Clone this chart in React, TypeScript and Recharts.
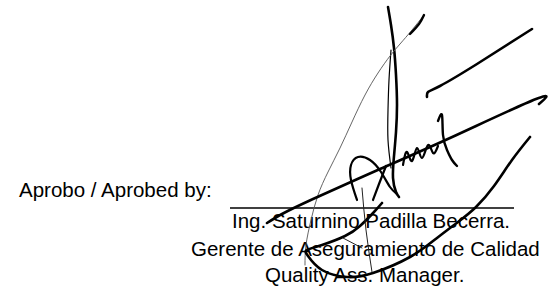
import { LineChart, Line, XAxis, YAxis, ReferenceLine, Customized } from "recharts";

// signature strokes, page coordinates (x right, y down)
const tallStroke = [
  { x: 388, y: 7 }, { x: 391, y: 25 }, { x: 394, y: 48 }, { x: 396, y: 75 },
  { x: 397, y: 105 }, { x: 396, y: 132 }, { x: 394, y: 156 }, { x: 393, y: 178 },
  { x: 396, y: 192 }, { x: 399, y: 197 },
];
const tallInner = [
  { x: 391, y: 50 }, { x: 389, y: 80 }, { x: 388, y: 110 }, { x: 388, y: 140 }, { x: 391, y: 168 },
];
const thinCurve = [
  { x: 424, y: 15 }, { x: 412, y: 30 }, { x: 400, y: 44 }, { x: 390, y: 56 },
  { x: 378, y: 73 }, { x: 365, y: 95 }, { x: 352, y: 122 }, { x: 340, y: 148 },
  { x: 328, y: 172 }, { x: 318, y: 195 }, { x: 311, y: 220 }, { x: 306, y: 245 }, { x: 305, y: 265 },
];
const topHook = [{ x: 424, y: 15 }, { x: 419, y: 24 }, { x: 410, y: 34 }];
const longDiagonal = [
  { x: 267, y: 223 }, { x: 282, y: 214 }, { x: 313, y: 199 }, { x: 380, y: 169 },
  { x: 450, y: 138 }, { x: 536, y: 99 }, { x: 539, y: 104 },
];
const upperDash = [
  { x: 427, y: 97 }, { x: 428, y: 92 }, { x: 440, y: 86 }, { x: 477, y: 64 }, { x: 532, y: 29 },
];
const scribble = [
  { x: 403, y: 165 }, { x: 407, y: 152 }, { x: 412, y: 161 }, { x: 417, y: 148 },
  { x: 422, y: 158 }, { x: 428, y: 145 }, { x: 433, y: 153 }, { x: 438, y: 146 },
];
const oneStroke = [
  { x: 438, y: 121 }, { x: 442, y: 115 }, { x: 443, y: 135 }, { x: 447, y: 150 },
  { x: 452, y: 160 }, { x: 457, y: 166 },
];
const bowl = [
  { x: 530, y: 137 }, { x: 512, y: 160 }, { x: 494, y: 186 }, { x: 476, y: 207 },
  { x: 458, y: 222 }, { x: 437, y: 238 }, { x: 410, y: 257 }, { x: 373, y: 273 },
  { x: 347, y: 277 }, { x: 322, y: 270 }, { x: 308, y: 256 }, { x: 307, y: 250 },
  { x: 322, y: 245 }, { x: 345, y: 236 }, { x: 360, y: 226 }, { x: 374, y: 212 }, { x: 382, y: 203 },
];
const loopD = [
  { x: 357, y: 200 }, { x: 351, y: 180 }, { x: 351, y: 165 }, { x: 358, y: 157 },
  { x: 370, y: 160 }, { x: 381, y: 172 }, { x: 390, y: 187 }, { x: 397, y: 194 },
];
const crossLeg = [{ x: 373, y: 200 }, { x: 379, y: 184 }, { x: 386, y: 166 }];
const thinVertical = [{ x: 362, y: 188 }, { x: 366, y: 230 }, { x: 372, y: 272 }];
const thinCross = [{ x: 343, y: 238 }, { x: 362, y: 248 }];

const signatureLine = [{ x: 230, y: 208 }, { x: 514, y: 208 }];

const labelLines = [
  { text: "Aprobo / Aprobed by:", x: 19, y: 197 },
  { text: "Ing. Saturnino Padilla Becerra.", x: 232, y: 228 },
  { text: "Gerente de Aseguramiento de Calidad", x: 191, y: 256 },
  { text: "Quality Ass. Manager.", x: 265, y: 282 },
];

const strokes = [
  { data: tallStroke, w: 2.6, c: "#000" },
  { data: tallInner, w: 1.2, c: "#000" },
  { data: thinCurve, w: 0.9, c: "#555" },
  { data: topHook, w: 2.4, c: "#000" },
  { data: longDiagonal, w: 2.6, c: "#000" },
  { data: upperDash, w: 2.6, c: "#000" },
  { data: scribble, w: 2.2, c: "#000" },
  { data: oneStroke, w: 2.4, c: "#000" },
  { data: bowl, w: 2.6, c: "#000" },
  { data: loopD, w: 2.2, c: "#000" },
  { data: crossLeg, w: 2.2, c: "#000" },
  { data: thinVertical, w: 1, c: "#222" },
  { data: thinCross, w: 1, c: "#222" },
];

const Labels = () => (
  <g>
    {labelLines.map((l) => (
      <text
        key={l.text}
        x={l.x}
        y={l.y}
        fontFamily="'Liberation Sans', Arial, sans-serif"
        fontSize={20.5}
        fill="#000"
      >
        {l.text}
      </text>
    ))}
  </g>
);

export default function App() {
  return (
    <div style={{ position: "absolute", left: 0, top: 0, width: 553, height: 296, background: "#fff" }}>
      <LineChart width={553} height={296} margin={{ top: 0, right: 0, bottom: 0, left: 0 }}>
        <XAxis type="number" dataKey="x" domain={[0, 553]} hide allowDataOverflow />
        <YAxis type="number" domain={[0, 296]} reversed hide allowDataOverflow />
        <Customized component={Labels} />
        <ReferenceLine segment={signatureLine} stroke="#000" strokeWidth={1.6} ifOverflow="visible" />
        {strokes.map((s, i) => (
          <Line
            key={i}
            data={s.data}
            dataKey="y"
            type="natural"
            stroke={s.c}
            strokeWidth={s.w}
            strokeLinecap="round"
            strokeLinejoin="round"
            dot={false}
            activeDot={false}
            isAnimationActive={false}
          />
        ))}
      </LineChart>
    </div>
  );
}
